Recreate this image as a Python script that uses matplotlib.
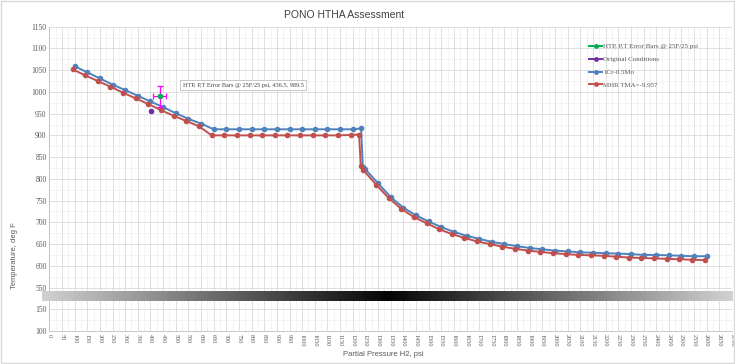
import numpy as np
import matplotlib
matplotlib.use("Agg")
import matplotlib.pyplot as plt
from matplotlib.lines import Line2D
from matplotlib.patches import Rectangle

# data
blue_x = [100, 150, 200, 250, 300, 350, 400, 450, 500, 550, 600, 650,
          700, 750, 800, 850, 900, 950, 1000, 1050, 1100, 1150, 1200,
          1233, 1240, 1250, 1300, 1350, 1400, 1450, 1500, 1550, 1600,
          1650, 1700, 1750, 1800, 1850, 1900, 1950, 2000, 2050, 2100,
          2150, 2200, 2250, 2300, 2350, 2400, 2450, 2500, 2550, 2600]
blue_y = [1059, 1045, 1031, 1017, 1004, 991, 978, 965, 951, 938, 927, 914,
          914, 914, 914, 914, 914, 914, 914, 914, 914, 914, 914,
          916, 828, 822, 790, 758, 734, 716, 702, 689, 678,
          669, 662, 655, 650, 645, 641, 638, 635, 633, 631,
          630, 629, 628, 627, 625, 625, 624, 623, 622, 622]

red_x = [92, 142, 192, 242, 292, 342, 392, 442, 492, 542, 592, 642,
         692, 742, 792, 842, 892, 942, 992, 1042, 1092, 1142, 1192,
         1225, 1232, 1242, 1292, 1342, 1392, 1442, 1492, 1542, 1592,
         1642, 1692, 1742, 1792, 1842, 1892, 1942, 1992, 2042, 2092,
         2142, 2192, 2242, 2292, 2342, 2392, 2442, 2492, 2542, 2592]
red_y = [1052, 1038, 1025, 1012, 998, 985, 972, 958, 945, 933, 921, 900,
         900, 900, 900, 900, 900, 900, 900, 900, 900, 900, 901,
         902, 829, 820, 787, 756, 731, 712, 698, 684, 673,
         664, 656, 650, 644, 639, 635, 632, 629, 627, 625,
         624, 623, 621, 619, 618, 617, 616, 615, 614, 613]

htp_x, htp_y, htp_err = 436.5, 989.5, 25
orig_x, orig_y = 404, 955

labels = ["HTP, P,T Error Bars @ 25F/25 psi", "Original Conditions",
          "1Cr-0.5Mo", "MHR TMA=-9.957"]

# broken axis: lower ticks show fake values
ytick_vals = [450, 500, 550, 600, 650, 700, 750, 800, 850, 900, 950, 1000, 1050, 1100, 1150]
ytick_text = ["100", "150", "550", "600", "650", "700", "750", "800", "850",
              "900", "950", "1000", "1050", "1100", "1150"]
xticks = np.arange(0, 2701, 50)

c_blue = "#4f81bd"
c_red = "#c0504d"
c_green = "#00b050"
c_purple = "#7030a0"
c_mag = "#ff00ff"
txt = "#595959"

fig = plt.figure(figsize=(7.35, 3.64), dpi=100)
ax = fig.add_axes([49.3 / 735, 1 - 331 / 364, (732 - 49.3) / 735, (331 - 26.7) / 364])

ax.set_xlim(0, 2700)
ax.set_ylim(450, 1150)

ax.set_xticks(xticks)
ax.set_xticklabels([str(v) for v in xticks], rotation=-90, fontsize=4.5,
                   family="Liberation Serif", color=txt)
ax.set_yticks(ytick_vals)
ax.set_yticklabels(ytick_text, fontsize=5.5, family="Liberation Serif", color=txt)
ax.set_yticks(np.arange(450, 1151, 25), minor=True)
ax.set_xticks(np.arange(0, 2701, 25), minor=True)
ax.tick_params(axis="both", which="both", length=0, pad=2)

ax.grid(True, which="major", color="#d9d9d9", lw=0.6)
ax.grid(True, which="minor", color="#efefef", lw=0.5)
ax.set_axisbelow(True)
for s in ["top", "right"]:
    ax.spines[s].set_visible(False)
for s in ["left", "bottom"]:
    ax.spines[s].set_color("#bfbfbf")
    ax.spines[s].set_linewidth(0.6)

ax.plot(blue_x, blue_y, color=c_blue, lw=1.4, marker="o", ms=3.0, zorder=3)
ax.plot(red_x, red_y, color=c_red, lw=1.4, marker="o", ms=3.0, zorder=3)
ax.plot([orig_x], [orig_y], "o", color=c_purple, ms=3.0, zorder=4)
ax.errorbar([htp_x], [htp_y], xerr=htp_err, yerr=htp_err, fmt="none",
            ecolor=c_mag, elinewidth=0.9, capsize=2, capthick=0.9, zorder=4)
ax.plot([htp_x], [htp_y], "o", color=c_green, ms=3.0, zorder=5)

ax.text(528, 1015.5, "HTP, P,T Error Bars @ 25F/25 psi, 436.5, 989.5",
        fontsize=4.5, family="Liberation Serif", color="#404040", ha="left", va="center",
        bbox=dict(boxstyle="square,pad=0.4", fc="white", ec="#bfbfbf", lw=0.6), zorder=6)

handles = [Line2D([], [], color=c, lw=1.4, marker="o", ms=2.5)
           for c in [c_green, c_purple, c_blue, c_red]]
fig.legend(handles, labels, loc="upper left", bbox_to_anchor=(586 / 735, 1 - 40 / 364),
           frameon=False, prop={"family": "Liberation Serif", "size": 5},
           handlelength=1.8, handletextpad=0.2, labelspacing=1.0, borderpad=0,
           labelcolor=txt)

# gray gradient band over the axis break
band = fig.add_axes([42 / 735, 1 - 300.7 / 364, (733 - 42) / 735, 9.7 / 364])
t = np.linspace(0, 1, 400)
g = 0.8 * np.abs(t - 0.5) / 0.5 + 0.02
band.imshow(np.tile(g, (2, 1)), cmap="gray", vmin=0, vmax=1, aspect="auto")
band.axis("off")

fig.text(344 / 735, 1 - 15 / 364, "PONO HTHA Assessment", ha="center", va="center",
         fontsize=7.5, family="Liberation Sans", color="#404040")
fig.text(383 / 735, 1 - 354 / 364, "Partial Pressure H2, psi", ha="center", va="center",
         fontsize=5.5, color=txt, family="Liberation Sans")
fig.text(14 / 735, 1 - 256 / 364, "Temperature, deg F", ha="center", va="center",
         rotation=90, fontsize=5.5, color=txt, family="Liberation Sans")

fig.patches.append(Rectangle((0.002, 0.003), 0.996, 0.994, transform=fig.transFigure,
                             fill=False, ec="#d9d9d9", lw=1))

fig.savefig("out.png", dpi=100)
